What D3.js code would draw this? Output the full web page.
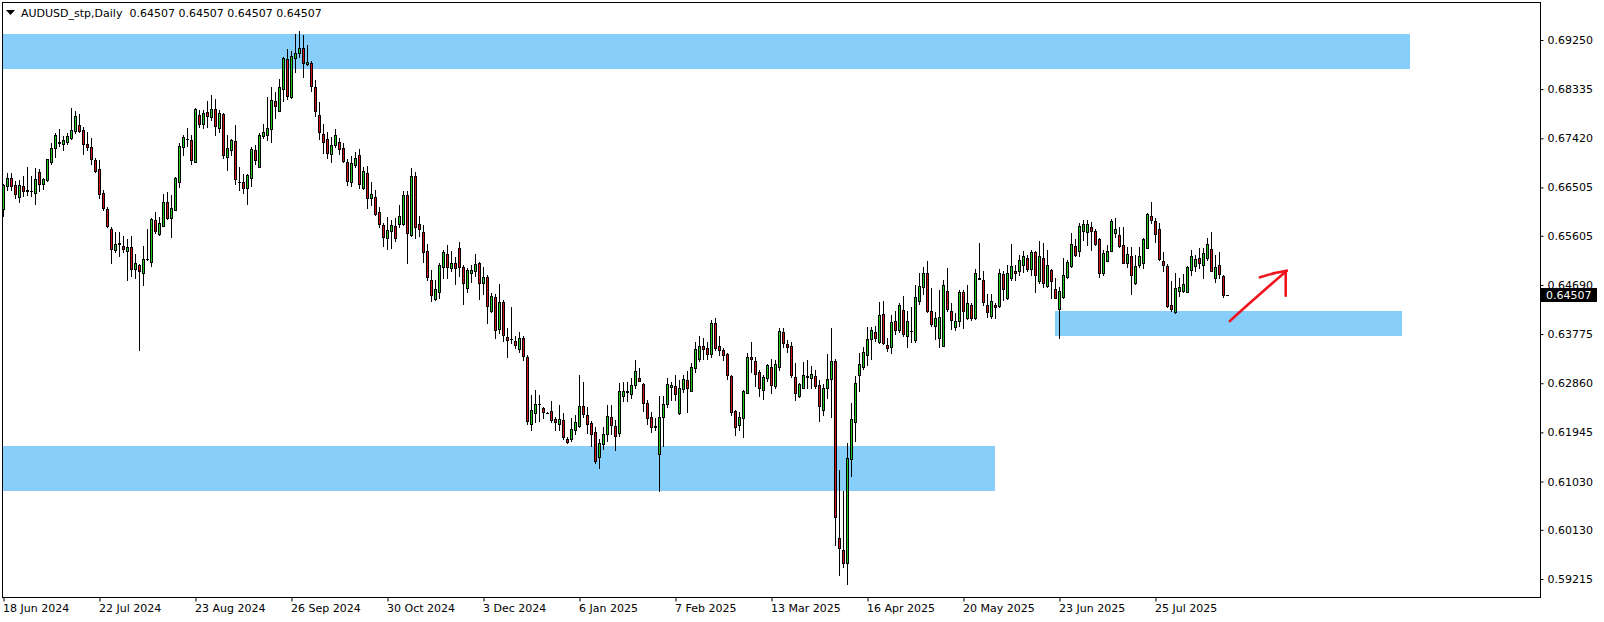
<!DOCTYPE html>
<html><head><meta charset="utf-8">
<script src="https://cdn.jsdelivr.net/npm/d3@7"></script>
<style>
html,body{margin:0;padding:0;background:#fff;}
svg{display:block;}
text{font-family:"DejaVu Sans",sans-serif;font-size:11px;}
</style>
</head><body>
<svg id="chart" width="1604" height="622"></svg>
<script>
// ---------------- data ----------------
const symbolTitle = "AUDUSD_stp,Daily";
const lastQuote = [0.64507, 0.64507, 0.64507, 0.64507];
const currentPrice = 0.64507;

const opens = [
0.6610,0.6654,0.6669,0.6655,0.6633,0.6653,0.6645,0.6644,0.6641,0.6679,
0.6656,0.6665,0.6697,0.6723,0.6734,0.6731,0.6735,0.6742,0.6756,0.6766,
0.6757,0.6731,0.6725,0.6701,0.6684,0.6640,0.6610,0.6573,0.6534,0.6546,
0.6542,0.6533,0.6539,0.6498,0.6506,0.6492,0.6517,0.6512,0.6589,0.6564,
0.6579,0.6623,0.6594,0.6609,0.6661,0.6726,0.6740,0.6739,0.6698,0.6785,
0.6769,0.6791,0.6782,0.6796,0.6761,0.6787,0.6708,0.6721,0.6737,0.6661,
0.6660,0.6650,0.6669,0.6721,0.6689,0.6747,0.6748,0.6760,0.6811,0.6793,
0.6833,0.6890,0.6818,0.6891,0.6900,0.6910,0.6880,0.6882,0.6837,0.6785,
0.6750,0.6740,0.6713,0.6730,0.6736,0.6723,0.6698,0.6661,0.6692,0.6711,
0.6649,0.6677,0.6630,0.6633,0.6605,0.6581,0.6557,0.6570,0.6579,0.6582,
0.6582,0.6636,0.6562,0.6671,0.6582,0.6568,0.6532,0.6478,0.6443,0.6456,
0.6502,0.6526,0.6500,0.6509,0.6537,0.6502,0.6463,0.6491,0.6495,0.6510,
0.6472,0.6483,0.6421,0.6446,0.6387,0.6437,0.6372,0.6368,0.6364,0.6349,
0.6370,0.6334,0.6210,0.6230,0.6247,0.6239,0.6231,0.6234,0.6219,0.6211,
0.6217,0.6183,0.6182,0.6198,0.6207,0.6244,0.6226,0.6212,0.6195,0.6148,
0.6173,0.6191,0.6223,0.6206,0.6194,0.6263,0.6270,0.6266,0.6282,0.6295,
0.6284,0.6250,0.6223,0.6206,0.6154,0.6224,0.6248,0.6279,0.6280,0.6230,
0.6275,0.6292,0.6272,0.6314,0.6331,0.6355,0.6351,0.6341,0.6398,0.6355,
0.6347,0.6340,0.6299,0.6234,0.6208,0.6222,0.6268,0.6334,0.6327,0.6307,
0.6273,0.6295,0.6316,0.6280,0.6317,0.6381,0.6359,0.6355,0.6297,0.6263,
0.6278,0.6298,0.6295,0.6299,0.6283,0.6236,0.6277,0.6293,0.6327,0.5997,
0.5975,0.5951,0.6144,0.6214,0.6301,0.6317,0.6338,0.6368,0.6381,0.6362,
0.6415,0.6358,0.6353,0.6402,0.6385,0.6422,0.6373,0.6383,0.6366,0.6440,
0.6466,0.6492,0.6420,0.6393,0.6370,0.6356,0.6458,0.6420,0.6391,0.6402,
0.6455,0.6408,0.6432,0.6407,0.6481,0.6479,0.6432,0.6412,0.6432,0.6430,
0.6489,0.6444,0.6481,0.6495,0.6494,0.6507,0.6519,0.6498,0.6530,0.6476,
0.6519,0.6467,0.6497,0.6461,0.6425,0.6446,0.6484,0.6505,0.6542,0.6533,
0.6570,0.6568,0.6577,0.6569,0.6554,0.6491,0.6514,0.6533,0.6565,0.6562,
0.6543,0.6510,0.6522,0.6472,0.6507,0.6509,0.6538,0.6597,0.6588,0.6573,
0.6514,0.6504,0.6432,0.6418,0.6458,0.6458,0.6456,0.6497,0.6505,0.6519,
0.6506,0.6520,0.6535,0.6481,0.6507,0.6486,0.64507];

const highs = [
0.6657,0.6677,0.6677,0.6662,0.6664,0.6672,0.6689,0.6672,0.6686,0.6684,
0.6669,0.6704,0.6734,0.6751,0.6760,0.6746,0.6751,0.6798,0.6793,0.6787,
0.6763,0.6754,0.6742,0.6706,0.6701,0.6645,0.6615,0.6576,0.6567,0.6568,
0.6561,0.6554,0.6560,0.6527,0.6508,0.6542,0.6573,0.6593,0.6605,0.6595,
0.6639,0.6642,0.6636,0.6670,0.6733,0.6748,0.6762,0.6749,0.6798,0.6795,
0.6795,0.6811,0.6823,0.6815,0.6795,0.6789,0.6748,0.6741,0.6767,0.6688,
0.6675,0.6676,0.6725,0.6730,0.6752,0.6769,0.6819,0.6837,0.6829,0.6852,
0.6893,0.6908,0.6905,0.6936,0.6942,0.6934,0.6916,0.6886,0.6851,0.6809,
0.6769,0.6754,0.6745,0.6759,0.6743,0.6733,0.6703,0.6709,0.6717,0.6722,
0.6689,0.6690,0.6660,0.6646,0.6614,0.6584,0.6596,0.6589,0.6593,0.6618,
0.6643,0.6644,0.6686,0.6679,0.6597,0.6580,0.6545,0.6496,0.6479,0.6510,
0.6534,0.6543,0.6532,0.6521,0.6549,0.6506,0.6501,0.6507,0.6526,0.6512,
0.6503,0.6487,0.6454,0.6453,0.6471,0.6441,0.6388,0.6428,0.6374,0.6381,
0.6373,0.6338,0.6264,0.6273,0.6264,0.6241,0.6232,0.6253,0.6224,0.6245,
0.6230,0.6185,0.6221,0.6226,0.6301,0.6289,0.6242,0.6216,0.6204,0.6182,
0.6205,0.6245,0.6245,0.6218,0.6286,0.6288,0.6288,0.6295,0.6329,0.6314,
0.6286,0.6255,0.6233,0.6221,0.6263,0.6262,0.6296,0.6289,0.6301,0.6292,
0.6302,0.6309,0.6323,0.6362,0.6374,0.6370,0.6363,0.6404,0.6407,0.6374,
0.6351,0.6343,0.6301,0.6236,0.6232,0.6273,0.6342,0.6362,0.6334,0.6311,
0.6301,0.6321,0.6332,0.6329,0.6389,0.6389,0.6366,0.6363,0.6324,0.6286,
0.6325,0.6329,0.6318,0.6311,0.6292,0.6285,0.6340,0.6389,0.6332,0.6124,
0.6086,0.6174,0.6249,0.6299,0.6342,0.6354,0.6391,0.6391,0.6393,0.6438,
0.6439,0.6371,0.6413,0.6420,0.6435,0.6448,0.6420,0.6427,0.6469,0.6492,
0.6503,0.6514,0.6463,0.6419,0.6460,0.6478,0.6501,0.6435,0.6416,0.6460,
0.6460,0.6469,0.6435,0.6498,0.6547,0.6494,0.6453,0.6453,0.6435,0.6499,
0.6494,0.6506,0.6545,0.6507,0.6525,0.6532,0.6525,0.6534,0.6533,0.6551,
0.6547,0.6534,0.6499,0.6481,0.6466,0.6519,0.6515,0.6565,0.6554,0.6584,
0.6590,0.6589,0.6587,0.6574,0.6556,0.6534,0.6543,0.6591,0.6593,0.6576,
0.6576,0.6539,0.6540,0.6525,0.6539,0.6557,0.6603,0.6624,0.6594,0.6585,
0.6530,0.6508,0.6477,0.6491,0.6481,0.6489,0.6504,0.6534,0.6525,0.6537,
0.6537,0.6556,0.6567,0.6525,0.6531,0.6487,0.64507];

const lows = [
0.6598,0.6646,0.6646,0.6630,0.6624,0.6634,0.6636,0.6635,0.6619,0.6643,
0.6648,0.6663,0.6695,0.6707,0.6728,0.6721,0.6731,0.6741,0.6752,0.6754,
0.6713,0.6720,0.6695,0.6679,0.6630,0.6608,0.6576,0.6510,0.6531,0.6522,
0.6531,0.6478,0.6486,0.6482,0.6347,0.6469,0.6516,0.6505,0.6566,0.6562,
0.6578,0.6592,0.6559,0.6608,0.6651,0.6711,0.6728,0.6695,0.6697,0.6763,
0.6762,0.6763,0.6776,0.6748,0.6754,0.6706,0.6683,0.6711,0.6657,0.6646,
0.6640,0.6620,0.6654,0.6695,0.6688,0.6742,0.6739,0.6736,0.6780,0.6792,
0.6811,0.6816,0.6817,0.6866,0.6894,0.6856,0.6878,0.6830,0.6784,0.6741,
0.6714,0.6706,0.6698,0.6725,0.6713,0.6697,0.6655,0.6653,0.6689,0.6650,
0.6648,0.6613,0.6618,0.6599,0.6577,0.6542,0.6535,0.6538,0.6551,0.6577,
0.6581,0.6510,0.6561,0.6557,0.6561,0.6511,0.6479,0.6439,0.6441,0.6445,
0.6481,0.6482,0.6495,0.6470,0.6486,0.6433,0.6456,0.6475,0.6486,0.6442,
0.6453,0.6398,0.6419,0.6371,0.6379,0.6365,0.6335,0.6360,0.6351,0.6344,
0.6329,0.6211,0.6198,0.6214,0.6216,0.6222,0.6230,0.6214,0.6198,0.6199,
0.6182,0.6175,0.6178,0.6191,0.6205,0.6223,0.6193,0.6170,0.6138,0.6129,
0.6164,0.6179,0.6191,0.6162,0.6188,0.6252,0.6253,0.6259,0.6277,0.6290,
0.6234,0.6210,0.6196,0.6199,0.6085,0.6169,0.6242,0.6255,0.6255,0.6229,
0.6269,0.6233,0.6271,0.6307,0.6328,0.6332,0.6332,0.6335,0.6348,0.6339,
0.6329,0.6294,0.6227,0.6190,0.6199,0.6185,0.6267,0.6307,0.6280,0.6263,
0.6257,0.6290,0.6267,0.6278,0.6311,0.6354,0.6345,0.6298,0.6255,0.6261,
0.6277,0.6277,0.6278,0.6278,0.6216,0.6227,0.6258,0.6224,0.5985,0.5929,
0.5944,0.5912,0.6113,0.6179,0.6272,0.6313,0.6320,0.6332,0.6365,0.6361,
0.6359,0.6346,0.6342,0.6378,0.6382,0.6374,0.6354,0.6363,0.6363,0.6433,
0.6453,0.6419,0.6393,0.6368,0.6354,0.6355,0.6420,0.6387,0.6385,0.6393,
0.6389,0.6406,0.6404,0.6406,0.6480,0.6432,0.6410,0.6407,0.6407,0.6428,
0.6441,0.6443,0.6478,0.6478,0.6487,0.6493,0.6494,0.6487,0.6455,0.6472,
0.6465,0.6465,0.6444,0.6444,0.6371,0.6445,0.6482,0.6503,0.6522,0.6523,
0.6553,0.6543,0.6534,0.6543,0.6484,0.6487,0.6513,0.6532,0.6559,0.6540,
0.6509,0.6503,0.6452,0.6471,0.6503,0.6500,0.6537,0.6584,0.6549,0.6515,
0.6494,0.6428,0.6421,0.6417,0.6448,0.6456,0.6455,0.6487,0.6494,0.6501,
0.6481,0.6515,0.6494,0.6475,0.6481,0.6447,0.64507];

const closes = [
0.6655,0.6669,0.6654,0.6639,0.6655,0.6644,0.6644,0.6644,0.6667,0.6657,
0.6666,0.6703,0.6723,0.6748,0.6735,0.6738,0.6746,0.6757,0.6783,0.6756,
0.6732,0.6726,0.6704,0.6682,0.6639,0.6613,0.6579,0.6535,0.6545,0.6547,
0.6535,0.6539,0.6499,0.6509,0.6494,0.6517,0.6518,0.6592,0.6570,0.6584,
0.6623,0.6594,0.6612,0.6669,0.6728,0.6744,0.6741,0.6702,0.6797,0.6769,
0.6790,0.6783,0.6796,0.6764,0.6789,0.6710,0.6723,0.6738,0.6667,0.6661,
0.6650,0.6674,0.6722,0.6702,0.6749,0.6754,0.6762,0.6813,0.6803,0.6837,
0.6891,0.6821,0.6895,0.6900,0.6911,0.6882,0.6884,0.6839,0.6792,0.6754,
0.6736,0.6715,0.6730,0.6748,0.6722,0.6700,0.6663,0.6696,0.6705,0.6656,
0.6681,0.6631,0.6638,0.6601,0.6582,0.6558,0.6571,0.6581,0.6557,0.6597,
0.6636,0.6565,0.6671,0.6577,0.6573,0.6531,0.6484,0.6450,0.6461,0.6506,
0.6530,0.6503,0.6509,0.6500,0.6502,0.6472,0.6496,0.6496,0.6508,0.6472,
0.6483,0.6429,0.6449,0.6385,0.6438,0.6376,0.6367,0.6369,0.6358,0.6370,
0.6337,0.6216,0.6236,0.6247,0.6248,0.6233,0.6231,0.6218,0.6213,0.6219,
0.6185,0.6176,0.6200,0.6213,0.6244,0.6228,0.6211,0.6192,0.6141,0.6174,
0.6191,0.6225,0.6209,0.6188,0.6272,0.6272,0.6271,0.6282,0.6308,0.6291,
0.6250,0.6222,0.6205,0.6205,0.6224,0.6248,0.6284,0.6283,0.6265,0.6277,
0.6294,0.6277,0.6316,0.6350,0.6355,0.6350,0.6341,0.6398,0.6352,0.6347,
0.6339,0.6301,0.6233,0.6205,0.6223,0.6272,0.6334,0.6331,0.6303,0.6277,
0.6298,0.6319,0.6282,0.6321,0.6383,0.6360,0.6354,0.6301,0.6267,0.6284,
0.6301,0.6299,0.6303,0.6281,0.6244,0.6277,0.6293,0.6327,0.6036,0.5979,
0.5951,0.6146,0.6219,0.6286,0.6321,0.6344,0.6368,0.6385,0.6371,0.6413,
0.6360,0.6352,0.6400,0.6385,0.6432,0.6378,0.6402,0.6384,0.6446,0.6467,
0.6492,0.6421,0.6396,0.6407,0.6409,0.6469,0.6425,0.6404,0.6401,0.6455,
0.6420,0.6435,0.6407,0.6492,0.6480,0.6438,0.6419,0.6439,0.6427,0.6491,
0.6461,0.6491,0.6505,0.6491,0.6515,0.6522,0.6498,0.6531,0.6487,0.6522,
0.6473,0.6507,0.6477,0.6445,0.6458,0.6487,0.6512,0.6545,0.6525,0.6579,
0.6582,0.6582,0.6570,0.6545,0.6491,0.6529,0.6533,0.6588,0.6573,0.6542,
0.6510,0.6527,0.6487,0.6504,0.6523,0.6554,0.6601,0.6589,0.6563,0.6518,
0.6507,0.6430,0.6424,0.6463,0.6466,0.6470,0.6502,0.6523,0.6517,0.6510,
0.6528,0.6545,0.6495,0.6503,0.6489,0.6451,0.64507];

// right-axis price ticks
const priceTicks = [0.69250,0.68335,0.67420,0.66505,0.65605,0.64690,0.63775,0.62860,0.61945,0.61030,0.60130,0.59215];
// bottom-axis date ticks (bar index of each label)
const dateTickBars = [0,24,48,72,96,120,144,168,192,216,240,264,288];
const dateTickLabels = ["18 Jun 2024","22 Jul 2024","23 Aug 2024","26 Sep 2024","30 Oct 2024","3 Dec 2024","6 Jan 2025","7 Feb 2025","13 Mar 2025","16 Apr 2025","20 May 2025","23 Jun 2025","25 Jul 2025"];

// supply / demand zones (bar index span, price span)
const zoneStart  = [-20, -20, 262.9];
const zoneEnd    = [351.6, 247.9, 349.6];
const zoneTop    = [0.69362, 0.61691, 0.64204];
const zoneBottom = [0.68716, 0.60859, 0.63745];

// hand-drawn arrow (bar index, price)
const arrowShaft = [[306.6,0.64018],[312,0.64380],[320.8,0.64954]];
const arrowHeadA = [[314.1,0.64831],[317.5,0.64905],[320.8,0.64954]];
const arrowHeadB = [[320.55,0.64936],[320.55,0.64489]];

// ---------------- drawing ----------------
const svg = d3.select("#chart");
const W = 1604, H = 622;
const plotL = 2, plotR = 1540, plotT = 2, plotB = 597;

const x = d3.scaleLinear().domain([0, 1]).range([3.5, 7.5]);
const y = d3.scaleLinear().domain([0.59215, 0.69250]).range([579, 40]);

const bullColor = "#1ec81e", bearColor = "#d21414", zoneColor = "#87cefa";

svg.append("rect").attr("width", W).attr("height", H).attr("fill", "#fff");

svg.append("defs").append("clipPath").attr("id", "plotclip")
  .append("rect").attr("x", plotL + 0.5).attr("y", plotT + 0.5)
  .attr("width", plotR - plotL).attr("height", plotB - plotT);

const plot = svg.append("g").attr("clip-path", "url(#plotclip)");

// zones
const zones = zoneStart.map((s, k) => ({s, e: zoneEnd[k], t: zoneTop[k], b: zoneBottom[k]}));
plot.selectAll("rect.zone").data(zones).join("rect").attr("class", "zone")
  .attr("x", d => Math.round(x(d.s)))
  .attr("width", d => Math.round(x(d.e)) - Math.round(x(d.s)))
  .attr("y", d => Math.round(y(d.t)))
  .attr("height", d => Math.round(y(d.b)) - Math.round(y(d.t)))
  .attr("fill", zoneColor);

// candles
const n = Math.min(opens.length, highs.length, lows.length, closes.length);
const candles = d3.range(n).map(i => ({i, o: opens[i], h: highs[i], l: lows[i], c: closes[i]}));
const snap = v => Math.round(v) + 0.5;

const cg = plot.append("g");
cg.selectAll("line.wick").data(candles).join("line").attr("class", "wick")
  .attr("x1", d => x(d.i)).attr("x2", d => x(d.i))
  .attr("y1", d => Math.round(y(d.h))).attr("y2", d => Math.round(y(d.l)) + 1)
  .attr("stroke", "#000").attr("stroke-width", 1);

candles.forEach(d => {
  const yTop = snap(y(Math.max(d.o, d.c)));
  const yBot = snap(y(Math.min(d.o, d.c)));
  const cx = x(d.i);
  if (yBot - yTop < 1) {
    cg.append("line").attr("x1", cx - 1.5).attr("x2", cx + 1.5)
      .attr("y1", yTop).attr("y2", yTop).attr("stroke", "#000").attr("stroke-width", 1);
  } else {
    cg.append("rect").attr("x", cx - 1).attr("width", 2)
      .attr("y", yTop).attr("height", yBot - yTop)
      .attr("fill", d.c >= d.o ? bullColor : bearColor)
      .attr("stroke", "#000").attr("stroke-width", 1);
  }
});

// arrow
const line = d3.line().x(p => x(p[0])).y(p => y(p[1])).curve(d3.curveCatmullRom);
[arrowShaft, arrowHeadA, arrowHeadB].forEach(a => {
  plot.append("path").attr("d", line(a)).attr("fill", "none")
    .attr("stroke", "#f0141e").attr("stroke-width", 2.6).attr("stroke-linecap", "round");
});

// frame
svg.append("rect").attr("x", plotL + 0.5).attr("y", plotT + 0.5)
  .attr("width", plotR - plotL).attr("height", plotB - plotT)
  .attr("fill", "none").attr("stroke", "#000").attr("stroke-width", 1);

// right axis
const yAxis = d3.axisRight(y).tickValues(priceTicks).tickFormat(d3.format(".5f"))
  .tickSize(3).tickPadding(4);
const ya = svg.append("g").attr("transform", `translate(${plotR + 0.5},0)`).call(yAxis);
ya.select(".domain").remove();
ya.selectAll("text").attr("fill", "#000").style("font-family", '"DejaVu Sans",sans-serif').style("font-size", "11px");
ya.selectAll("line").attr("stroke", "#000");

// bottom axis
const xAxis = d3.axisBottom(x).tickValues(dateTickBars).tickFormat((d, k) => dateTickLabels[k])
  .tickSize(4).tickPadding(3);
const xa = svg.append("g").attr("transform", `translate(0,${plotB + 0.5})`).call(xAxis);
xa.select(".domain").remove();
xa.selectAll("text").attr("text-anchor", "start").attr("x", -1).attr("fill", "#000")
  .style("font-family", '"DejaVu Sans",sans-serif').style("font-size", "11px");
xa.selectAll("line").attr("stroke", "#000");

// current price label
const yc = Math.round(y(currentPrice));
svg.append("rect").attr("x", plotR + 1).attr("y", yc - 7).attr("width", 56).attr("height", 14).attr("fill", "#000");
svg.append("text").attr("x", plotR + 6).attr("y", yc).attr("dy", "0.36em")
  .attr("fill", "#fff").text(d3.format(".5f")(currentPrice));

// title
svg.append("path").attr("d", "M6,10 L15,10 L10.5,15 Z").attr("fill", "#000");
svg.append("text").attr("x", 21).attr("y", 17).attr("fill", "#000").style("white-space", "pre")
  .text(symbolTitle + "  " + lastQuote.map(d3.format(".5f")).join(" "));
</script>
</body></html>
